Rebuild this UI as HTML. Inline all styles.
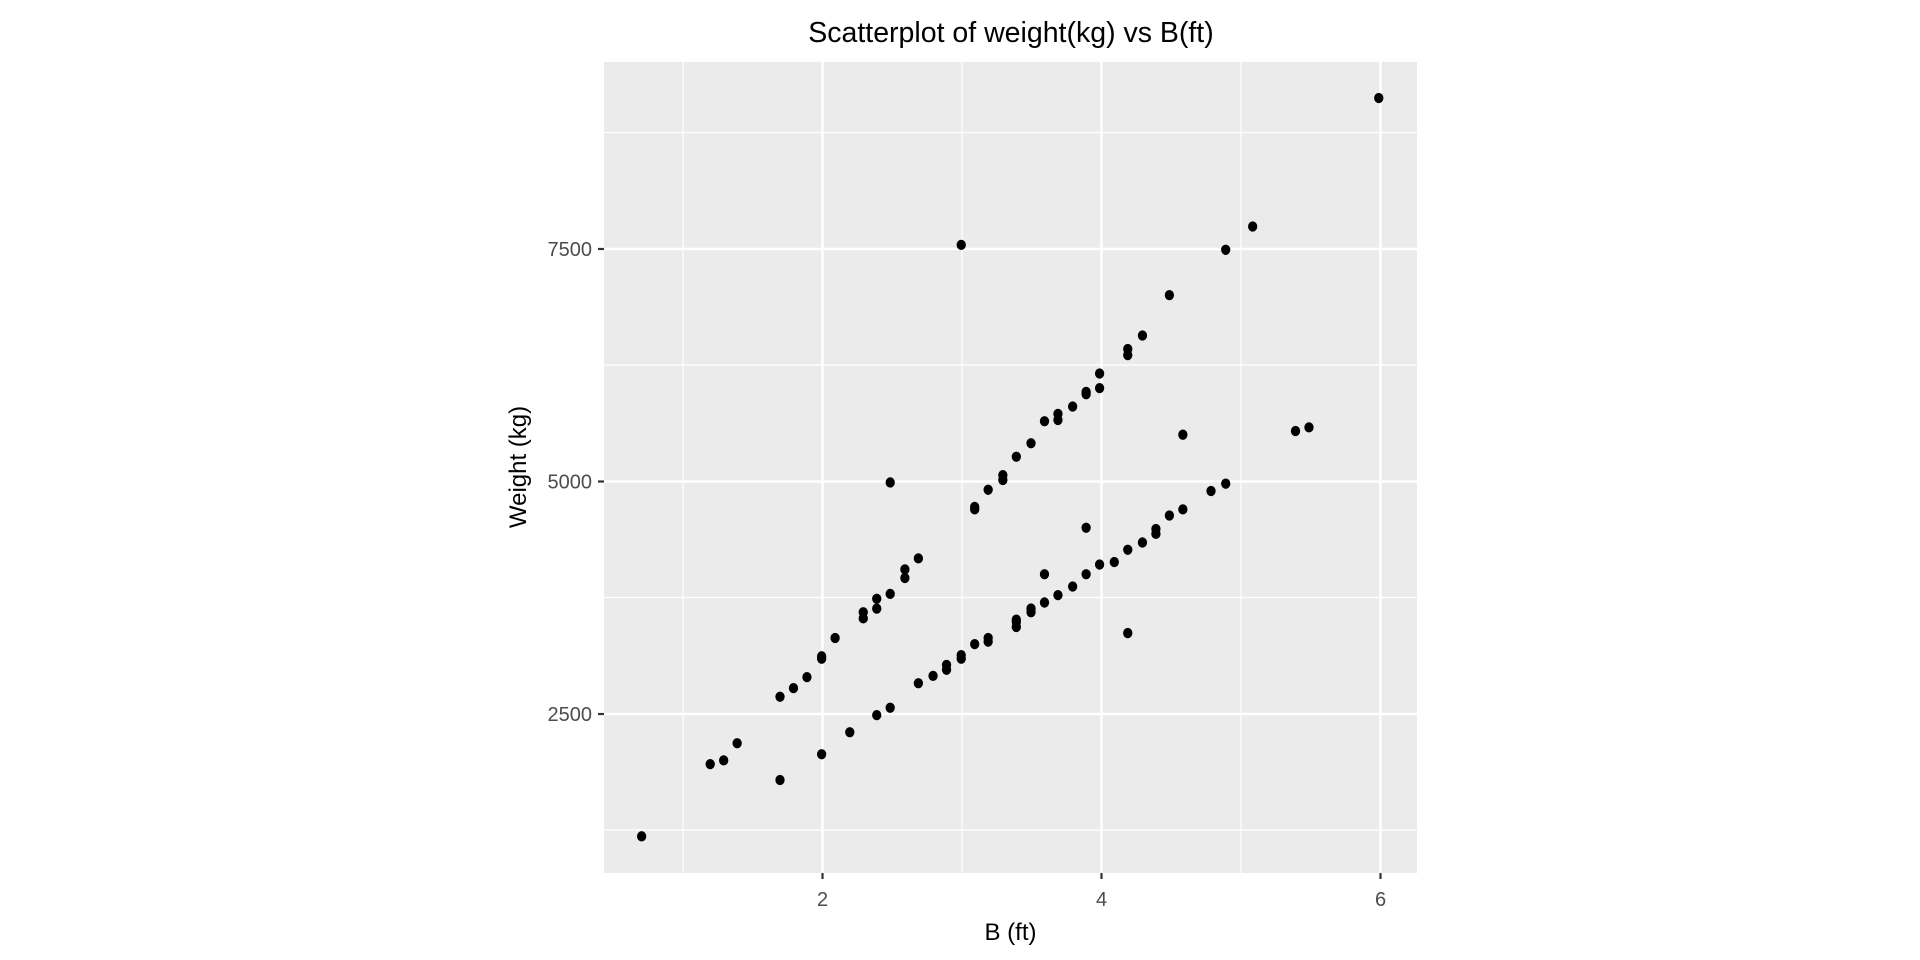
<!DOCTYPE html>
<html><head><style>body{margin:0;background:#fff}svg{display:block}text{font-family:"Liberation Sans",sans-serif}</style></head><body>
<svg width="1920" height="960" xmlns="http://www.w3.org/2000/svg">
<rect x="604" y="62" width="813" height="811" fill="#ebebeb"/>
<g stroke="#fff" stroke-width="1.2">
<line x1="683" y1="62" x2="683" y2="873"/><line x1="962" y1="62" x2="962" y2="873"/><line x1="1241" y1="62" x2="1241" y2="873"/>
<line x1="604" y1="830" x2="1417" y2="830"/><line x1="604" y1="597.5" x2="1417" y2="597.5"/><line x1="604" y1="365" x2="1417" y2="365"/><line x1="604" y1="132.5" x2="1417" y2="132.5"/>
</g>
<g stroke="#fff" stroke-width="2.4">
<line x1="822.5" y1="62" x2="822.5" y2="873"/><line x1="1101.5" y1="62" x2="1101.5" y2="873"/><line x1="1380.5" y1="62" x2="1380.5" y2="873"/>
<line x1="604" y1="714" x2="1417" y2="714"/><line x1="604" y1="481.5" x2="1417" y2="481.5"/><line x1="604" y1="249" x2="1417" y2="249"/>
</g>
<g stroke="#333" stroke-width="2.2">
<line x1="598" y1="714" x2="604" y2="714"/><line x1="598" y1="481.5" x2="604" y2="481.5"/><line x1="598" y1="249" x2="604" y2="249"/>
<line x1="822.5" y1="873" x2="822.5" y2="879"/><line x1="1101.5" y1="873" x2="1101.5" y2="879"/><line x1="1380.5" y1="873" x2="1380.5" y2="879"/>
</g>
<g fill="#4d4d4d" font-size="20" text-anchor="end">
<text x="592" y="721">2500</text><text x="592" y="488.5">5000</text><text x="592" y="256">7500</text>
</g>
<g fill="#4d4d4d" font-size="20" text-anchor="middle">
<text x="822.5" y="906">2</text><text x="1101.5" y="906">4</text><text x="1380.5" y="906">6</text>
</g>
<text x="1010.5" y="940" font-size="24" text-anchor="middle">B (ft)</text>
<text x="0" y="0" font-size="24" text-anchor="middle" transform="translate(526,467) rotate(-90)">Weight (kg)</text>
<text x="1011" y="42" font-size="28.5" text-anchor="middle">Scatterplot of weight(kg) vs B(ft)</text>
<g transform="scale(1.22449)" fill="#000">
<ellipse cx="524" cy="683" rx="3.8" ry="4.2"/><ellipse cx="580" cy="624" rx="3.8" ry="4.2"/><ellipse cx="591" cy="621" rx="3.8" ry="4.2"/><ellipse cx="602" cy="607" rx="3.8" ry="4.2"/><ellipse cx="637" cy="637" rx="3.8" ry="4.2"/><ellipse cx="637" cy="569" rx="3.8" ry="4.2"/><ellipse cx="648" cy="562" rx="3.8" ry="4.2"/><ellipse cx="659" cy="553" rx="3.8" ry="4.2"/><ellipse cx="671" cy="538" rx="3.8" ry="4.2"/><ellipse cx="671" cy="536" rx="3.8" ry="4.2"/><ellipse cx="671" cy="616" rx="3.8" ry="4.2"/><ellipse cx="682" cy="521" rx="3.8" ry="4.2"/><ellipse cx="694" cy="598" rx="3.8" ry="4.2"/><ellipse cx="705" cy="500" rx="3.8" ry="4.2"/><ellipse cx="705" cy="505" rx="3.8" ry="4.2"/><ellipse cx="716" cy="584" rx="3.8" ry="4.2"/><ellipse cx="716" cy="489" rx="3.8" ry="4.2"/><ellipse cx="716" cy="497" rx="3.8" ry="4.2"/><ellipse cx="727" cy="485" rx="3.8" ry="4.2"/><ellipse cx="727" cy="578" rx="3.8" ry="4.2"/><ellipse cx="727" cy="394" rx="3.8" ry="4.2"/><ellipse cx="739" cy="472" rx="3.8" ry="4.2"/><ellipse cx="739" cy="465" rx="3.8" ry="4.2"/><ellipse cx="750" cy="456" rx="3.8" ry="4.2"/><ellipse cx="750" cy="558" rx="3.8" ry="4.2"/><ellipse cx="762" cy="552" rx="3.8" ry="4.2"/><ellipse cx="773" cy="547" rx="3.8" ry="4.2"/><ellipse cx="773" cy="543" rx="3.8" ry="4.2"/><ellipse cx="785" cy="200" rx="3.8" ry="4.2"/><ellipse cx="785" cy="538" rx="3.8" ry="4.2"/><ellipse cx="785" cy="535" rx="3.8" ry="4.2"/><ellipse cx="796" cy="526" rx="3.8" ry="4.2"/><ellipse cx="796" cy="416" rx="3.8" ry="4.2"/><ellipse cx="796" cy="414" rx="3.8" ry="4.2"/><ellipse cx="807" cy="400" rx="3.8" ry="4.2"/><ellipse cx="807" cy="524" rx="3.8" ry="4.2"/><ellipse cx="807" cy="521" rx="3.8" ry="4.2"/><ellipse cx="819" cy="392" rx="3.8" ry="4.2"/><ellipse cx="819" cy="388" rx="3.8" ry="4.2"/><ellipse cx="830" cy="512" rx="3.8" ry="4.2"/><ellipse cx="830" cy="508" rx="3.8" ry="4.2"/><ellipse cx="830" cy="506" rx="3.8" ry="4.2"/><ellipse cx="830" cy="373" rx="3.8" ry="4.2"/><ellipse cx="842" cy="362" rx="3.8" ry="4.2"/><ellipse cx="842" cy="500" rx="3.8" ry="4.2"/><ellipse cx="842" cy="497" rx="3.8" ry="4.2"/><ellipse cx="853" cy="344" rx="3.8" ry="4.2"/><ellipse cx="853" cy="492" rx="3.8" ry="4.2"/><ellipse cx="853" cy="469" rx="3.8" ry="4.2"/><ellipse cx="864" cy="343" rx="3.8" ry="4.2"/><ellipse cx="864" cy="338" rx="3.8" ry="4.2"/><ellipse cx="864" cy="486" rx="3.8" ry="4.2"/><ellipse cx="876" cy="332" rx="3.8" ry="4.2"/><ellipse cx="876" cy="479" rx="3.8" ry="4.2"/><ellipse cx="887" cy="322" rx="3.8" ry="4.2"/><ellipse cx="887" cy="320" rx="3.8" ry="4.2"/><ellipse cx="887" cy="469" rx="3.8" ry="4.2"/><ellipse cx="887" cy="431" rx="3.8" ry="4.2"/><ellipse cx="898" cy="317" rx="3.8" ry="4.2"/><ellipse cx="898" cy="305" rx="3.8" ry="4.2"/><ellipse cx="898" cy="461" rx="3.8" ry="4.2"/><ellipse cx="910" cy="459" rx="3.8" ry="4.2"/><ellipse cx="921" cy="449" rx="3.8" ry="4.2"/><ellipse cx="921" cy="290" rx="3.8" ry="4.2"/><ellipse cx="921" cy="285" rx="3.8" ry="4.2"/><ellipse cx="921" cy="517" rx="3.8" ry="4.2"/><ellipse cx="933" cy="443" rx="3.8" ry="4.2"/><ellipse cx="933" cy="274" rx="3.8" ry="4.2"/><ellipse cx="944" cy="436" rx="3.8" ry="4.2"/><ellipse cx="944" cy="432" rx="3.8" ry="4.2"/><ellipse cx="955" cy="241" rx="3.8" ry="4.2"/><ellipse cx="955" cy="421" rx="3.8" ry="4.2"/><ellipse cx="966" cy="416" rx="3.8" ry="4.2"/><ellipse cx="966" cy="355" rx="3.8" ry="4.2"/><ellipse cx="989" cy="401" rx="3.8" ry="4.2"/><ellipse cx="1001" cy="395" rx="3.8" ry="4.2"/><ellipse cx="1001" cy="204" rx="3.8" ry="4.2"/><ellipse cx="1023" cy="185" rx="3.8" ry="4.2"/><ellipse cx="1058" cy="352" rx="3.8" ry="4.2"/><ellipse cx="1069" cy="349" rx="3.8" ry="4.2"/><ellipse cx="1126" cy="80" rx="3.8" ry="4.2"/>
</g>
</svg>
</body></html>
